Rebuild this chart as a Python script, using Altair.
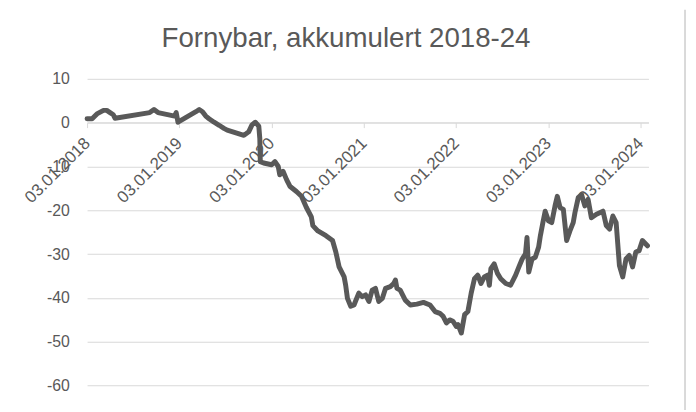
import altair as alt
import pandas as pd

dates = [
    "2018-01-03", "2018-01-23", "2018-02-11", "2018-03-09", "2018-03-22", "2018-04-04",
    "2018-04-17", "2018-04-24", "2018-09-08", "2018-09-25", "2018-10-11", "2018-12-16",
    "2018-12-22", "2018-12-29", "2019-03-10", "2019-03-23", "2019-04-05", "2019-04-18",
    "2019-05-01", "2019-05-21", "2019-06-10", "2019-06-29", "2019-07-12", "2019-09-16",
    "2019-10-05", "2019-10-18", "2019-10-31", "2019-11-14", "2019-11-18", "2019-11-20",
    "2019-12-03", "2020-01-04", "2020-01-17", "2020-01-30", "2020-02-05", "2020-02-18",
    "2020-03-03", "2020-03-16", "2020-04-11", "2020-05-01", "2020-05-20", "2020-06-09",
    "2020-06-15", "2020-07-05", "2020-08-06", "2020-09-01", "2020-09-14", "2020-09-27",
    "2020-10-17", "2020-10-23", "2020-10-30", "2020-11-12", "2020-11-25", "2020-12-14",
    "2020-12-28", "2021-01-10", "2021-01-23", "2021-02-05", "2021-02-18", "2021-03-03",
    "2021-03-17", "2021-03-30", "2021-04-18", "2021-05-01", "2021-05-08", "2021-05-14",
    "2021-05-27", "2021-06-16", "2021-07-06", "2021-08-01", "2021-08-27", "2021-09-22",
    "2021-10-12", "2021-10-31", "2021-11-13", "2021-11-26", "2021-12-09", "2021-12-22",
    "2022-01-04", "2022-01-11", "2022-01-24", "2022-02-06", "2022-02-19", "2022-03-04",
    "2022-03-17", "2022-03-30", "2022-04-12", "2022-04-25", "2022-05-08", "2022-05-15",
    "2022-05-21", "2022-06-03", "2022-06-16", "2022-06-29", "2022-07-19", "2022-08-07",
    "2022-08-27", "2022-09-09", "2022-09-22", "2022-10-05", "2022-10-11", "2022-10-18",
    "2022-10-31", "2022-11-13", "2022-11-26", "2022-12-03", "2022-12-13", "2022-12-22",
    "2023-01-04", "2023-01-17", "2023-01-30", "2023-02-08", "2023-02-19", "2023-03-04",
    "2023-03-17", "2023-03-30", "2023-04-12", "2023-04-19", "2023-05-02", "2023-05-15",
    "2023-05-28", "2023-06-10", "2023-06-23", "2023-07-13", "2023-08-08", "2023-08-21",
    "2023-09-03", "2023-09-16", "2023-09-29", "2023-10-12", "2023-10-25", "2023-11-07",
    "2023-11-20", "2023-12-03", "2023-12-16", "2023-12-29", "2024-01-11", "2024-01-31",
]

values = [
    0.9, 0.9, 2.0, 2.8, 2.8, 2.3,
    1.8, 1.0, 2.3, 3.0, 2.3, 1.5,
    2.3, 0.1, 2.5, 3.0, 2.5, 1.5,
    0.9, 0.1, -0.6, -1.3, -1.7, -2.9,
    -2.1, -0.5, 0.1, -0.8, -3.6, -8.9,
    -9.2, -9.6, -8.9, -10.0, -11.9, -11.1,
    -13.0, -14.5, -15.7, -16.8, -19.3, -21.5,
    -23.5, -24.7, -25.8, -26.9, -29.5, -32.9,
    -35.2, -37.1, -40.1, -41.9, -41.6, -38.9,
    -39.7, -39.3, -40.8, -38.2, -37.8, -40.8,
    -40.1, -37.8, -37.4, -36.7, -35.9, -37.8,
    -38.2, -40.5, -41.6, -41.4, -41.0, -41.6,
    -43.1, -43.5, -44.2, -45.7, -45.0, -45.3,
    -46.5, -46.1, -48.0, -43.8, -43.1, -38.9,
    -35.6, -34.8, -36.7, -35.2, -34.8, -37.1,
    -33.3, -32.2, -34.4, -35.6, -36.7, -37.1,
    -34.8, -32.9, -31.1, -29.9, -26.2, -34.1,
    -31.1, -30.7, -28.4, -25.8, -22.8, -20.2,
    -22.4, -22.8, -19.0, -16.8, -19.4, -19.8,
    -26.9, -24.7, -22.8, -20.5, -17.1, -16.4,
    -19.0, -17.5, -21.7, -20.9, -20.2, -23.5,
    -24.3, -21.3, -22.8, -32.6, -35.2, -31.1,
    -30.3, -32.9, -29.5, -29.2, -26.9, -28.1,
]

tick_years = [2018, 2019, 2020, 2021, 2022, 2023, 2024]
y_ticks = [-60, -50, -40, -30, -20, -10, 0, 10]

df = pd.DataFrame({"dato": pd.to_datetime(dates), "verdi": values})

TXT = "#595959"
GRID = "#d9d9d9"
FONT = "Liberation Sans"

plot_h = 310.4
y_zero_from_top = plot_h * 10 / 70

line = (
    alt.Chart(df)
    .mark_line(color="#595959", strokeWidth=5, strokeJoin="round", strokeCap="round")
    .encode(
        x=alt.X(
            "dato:T",
            scale=alt.Scale(
                domain=[
                    alt.DateTime(year=2018, month=1, date=3),
                    alt.DateTime(year=2024, month=2, date=4),
                ]
            ),
            axis=alt.Axis(
                title=None,
                values=[alt.DateTime(year=y, month=1, date=3) for y in tick_years],
                format="%d.%m.%Y",
                labelAngle=-45,
                labelAlign="right",
                labelBaseline="middle",
                labelFontSize=17,
                labelColor=TXT,
                labelFont=FONT,
                labelPadding=13,
                labelFlush=False,
                labelOverlap=False,
                labelBound=False,
                grid=False,
                domainColor=GRID,
                domainWidth=1,
                tickColor=GRID,
                tickSize=5,
                offset=-(plot_h - y_zero_from_top),
            ),
        ),
        y=alt.Y(
            "verdi:Q",
            scale=alt.Scale(domain=[-60, 10], nice=False, zero=False),
            axis=alt.Axis(
                title=None,
                values=y_ticks,
                labelExpr="datum.value < 0 ? '-' + abs(datum.value) : '' + datum.value",
                domain=False,
                ticks=False,
                labelPadding=18,
                labelFontSize=16,
                labelColor=TXT,
                labelFont=FONT,
                gridColor=GRID,
                gridWidth=1,
            ),
        ),
    )
)

border = (
    alt.Chart(pd.DataFrame({"k": [0]}))
    .mark_rule(color=GRID, strokeWidth=2)
    .encode(x=alt.value(605), y=alt.value(-70), y2=alt.value(335))
)

chart = (
    alt.layer(line, border)
    .properties(
        width=568,
        height=plot_h,
        title=alt.TitleParams(
            "Fornybar, akkumulert 2018-24",
            fontSize=28,
            font=FONT,
            color=TXT,
            fontWeight="normal",
            anchor="middle",
            dx=-22,
            dy=89,
            baseline="alphabetic",
            offset=22,
        ),
        autosize=alt.AutoSizeParams(type="none"),
        padding={"left": 80, "top": 69.3, "right": 40, "bottom": 24},
    )
    .configure_view(stroke=None)
)

chart.save("out.html", embed_options={"renderer": "svg", "actions": False})
